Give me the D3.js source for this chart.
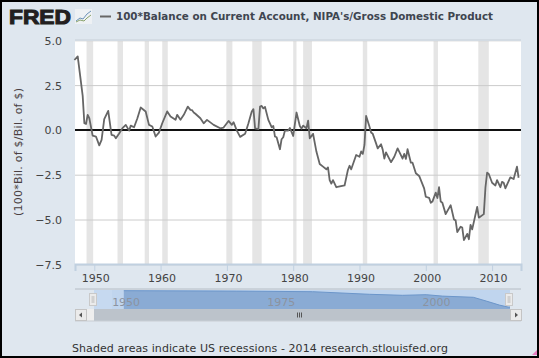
<!DOCTYPE html>
<html>
<head>
<meta charset="utf-8">
<script src="https://cdn.jsdelivr.net/npm/d3@7"></script>
<style>
html, body { margin: 0; padding: 0; background: #dfe7ef; }
svg { display: block; }
text { font-family: "DejaVu Sans", sans-serif; }
</style>
</head>
<body>
<script>
//Series: decimal year and percent of GDP
var years = [1947,1947.5,1948.25,1948.5,1948.75,1949,1949.25,1949.75,1950.25,1950.75,1951.1,1951.5,1952.1,1952.6,1953,1953.25,1953.75,1954.25,1954.75,1955.25,1955.5,1956,1956.5,1957,1957.75,1958.25,1958.75,1959.25,1959.75,1960.25,1961,1961.5,1962.25,1962.5,1963,1963.5,1964.1,
  1964.5,1964.75,1965,1965.25,1966,1966.5,1967,1968,1969,1969.5,1970.25,1970.75,1971,1971.5,1972,1972.75,1973.25,1973.75,1974,1974.25,1974.75,1975,1975.25,1975.5,1975.75,1976.25,1976.75,1977,1977.25,1977.5,1978,1978.25,1978.5,1978.75,1979.25,1979.5,1980,1980.5,1981,1981.25,1981.5,1982,1982.25,1982.5,1983,1983.5,1984,
  1984.5,1985,1985.25,1985.5,1985.75,1986,1986.5,1987.75,1988.25,1988.5,1988.75,1989.5,1990,1990.25,1990.5,1990.75,1991,1991.5,1991.75,1992,1992.5,1992.75,1993.25,1993.5,1993.75,1994,1994.75,1995.25,1995.75,1996.5,1996.75,1997,1997.25,1997.75,1998,1998.5,1999,
  1999.75,2000,2000.5,2000.75,2001,2001.5,2001.75,2002,2002.25,2002.5,2003,2003.75,2004.25,2004.5,2004.75,2005.25,2005.5,2005.75,2006.25,2006.5,2006.75,2007,2007.75,2008,2008.75,2009,2009.25,2009.5,2010,2010.5,2010.75,2011.25,2011.5,2011.75,2012,2012.75,2013.25,2013.75,2014];
var balance = [3.9,4.1,1.9,0.37,0.33,0.84,0.65,-0.32,-0.37,-0.86,-0.56,0.6,1.06,-0.28,-0.32,-0.47,-0.2,0.1,0.28,-0.04,0.24,0.15,0.65,1.25,1.03,0.28,0.19,-0.37,-0.15,0.37,1.03,0.75,0.56,0.84,0.56,0.84,1.3,
  1.12,1.1,0.97,0.9,0.65,0.37,0.56,0.28,0.09,0.13,0.5,0.28,0.43,-0.04,-0.39,-0.22,0.37,1.03,1.16,0.09,0.04,1.3,1.34,1.2,1.28,0.56,0.15,0.22,-0.37,-0.41,-1.08,-0.52,-0.41,-0.04,-0.04,0.11,-0.34,0.97,0.22,0.07,0.24,0.09,0.52,-0.47,-0.22,-1.21,-1.9,
  -2.05,-2.2,-2.09,-2.8,-3,-2.8,-3.2,-3.1,-2.24,-2,-2.2,-1.4,-1.5,-1.2,-1.34,-0.84,0.78,0.19,-0.15,-0.22,-0.75,-1.03,-0.8,-1.1,-1.6,-1.25,-1.8,-1.5,-1.03,-1.6,-1.34,-1.62,-1.08,-1.83,-1.83,-2.42,-2.57,
  -3.26,-3.73,-3.79,-4.07,-4,-3.5,-3.8,-3.2,-4,-4.07,-4.7,-4.2,-5,-5.05,-5.7,-5.4,-5.45,-6.15,-5.8,-6.1,-5.3,-5.55,-4.3,-4.9,-4.7,-3.2,-2.39,-2.46,-2.95,-3.1,-2.8,-3.2,-2.9,-2.95,-3.26,-2.65,-2.74,-2.05,-2.67];

//NBER recessions
var recStart = [1948.83,1953.5,1957.6,1960.25,1969.92,1973.83,1980,1981.5,1990.5,2001.17,2007.92];
var recEnd = [1949.83,1954.33,1958.25,1961.08,1970.83,1975.25,1980.5,1982.83,1991.17,2001.83,2009.5];

var yTicks = [5,2.5,0,-2.5,-5,-7.5];
var xTicks = [1950,1960,1970,1980,1990,2000,2010];

//Navigator outline, level in percent of the navigator height
var navYears = [1951.8,1970,1982.2,1991.4,1996.7,2000.5,2003.1,2008.1,2010.2,2012.3,2013.7,2014];
var navLevel = [94,92,89,76,71,74,67,61,42,22,12,12];
var navTicks = [1950,1975,2000];

var titleText = "100*Balance on Current Account, NIPA's/Gross Domestic Product";
var yLabel = "(100*Bil. of $/Bil. of $)";
var footer = "Shaded areas indicate US recessions - 2014 research.stlouisfed.org";

var w = 539, h = 358;
var margin = {top: 40, right: 18, bottom: 94, left: 75};

var xScale = d3.scaleLinear().domain([1947.09, 2014.36]).range([margin.left, w - margin.right]);
var yScale = d3.scaleLinear().domain([-7.5, 5]).range([h - margin.bottom + 0.3, margin.top + 0.3]);
var navX = d3.scaleLinear().domain([1947, 2014]).range([94, 510]);
var navY = d3.scaleLinear().domain([0, 100]).range([309.5, 289.5]);

var svg = d3.select("body").append("svg").attr("width", w).attr("height", h);

svg.append("rect").attr("width", w).attr("height", h).attr("fill", "#dfe7ef");

//Logo and legend
svg.append("text").attr("x", 9).attr("y", 24)
  .attr("textLength", 62).attr("lengthAdjust", "spacingAndGlyphs")
  .style("font-family", "'Liberation Sans', sans-serif").style("font-weight", "bold").style("font-size", "21px")
  .attr("fill", "#231f20").attr("stroke", "#231f20").attr("stroke-width", 1.1)
  .text("FRED");
svg.append("rect").attr("x", 75).attr("y", 9).attr("width", 17).attr("height", 15).attr("fill", "#eef1f4");
svg.append("path").attr("d", "M76 21L80 18L83 19L87 14L91 11").attr("fill", "none").attr("stroke", "#6d93b8");
svg.append("path").attr("d", "M76 22L80 20L84 21L87 18L91 15").attr("fill", "none").attr("stroke", "#8aa36b");
svg.append("line").attr("x1", 100).attr("x2", 111).attr("y1", 16.5).attr("y2", 16.5).attr("stroke", "#666").attr("stroke-width", 2);
svg.append("text").attr("x", 116).attr("y", 20)
  .attr("textLength", 377).attr("lengthAdjust", "spacingAndGlyphs")
  .style("font-weight", "bold").style("font-size", "11px").attr("fill", "#3e4550")
  .text(titleText);

//Plot area
svg.append("rect")
  .attr("x", margin.left).attr("y", margin.top)
  .attr("width", w - margin.left - margin.right).attr("height", h - margin.top - margin.bottom)
  .attr("fill", "#fff");

svg.selectAll("rect.recession")
  .data(recStart)
  .enter()
  .append("rect")
  .attr("class", "recession")
  .attr("x", function (d) { return xScale(d); })
  .attr("y", margin.top)
  .attr("width", function (d, i) { return xScale(recEnd[i]) - xScale(d); })
  .attr("height", h - margin.top - margin.bottom)
  .attr("fill", "#e5e5e5");

//Y axis with the gridlines as long ticks
var yAxis = d3.axisLeft(yScale)
  .tickValues(yTicks)
  .tickSize(-(w - margin.left - margin.right))
  .tickPadding(13)
  .tickFormat(d3.format(".1f"));

var yG = svg.append("g").attr("transform", "translate(" + margin.left + ",0)").call(yAxis);
yG.select(".domain").remove();
yG.selectAll("line").attr("stroke", "#ccc");
yG.selectAll("text").attr("fill", "#444").style("font-size", "11px").attr("dy", "0.36em");
svg.append("line").attr("x1", margin.left).attr("x2", w - margin.right)
  .attr("y1", margin.top).attr("y2", margin.top).attr("stroke", "#d3dbe3").attr("stroke-width", 2);

svg.append("text")
  .attr("transform", "translate(22,152) rotate(-90)")
  .attr("text-anchor", "middle")
  .attr("textLength", 128)
  .style("font-size", "11px").attr("fill", "#4a3f42")
  .text(yLabel);

//X axis
var xAxis = d3.axisBottom(xScale)
  .tickValues(xTicks)
  .tickSize(7)
  .tickPadding(3)
  .tickFormat(d3.format("d"));

var xG = svg.append("g").attr("transform", "translate(0," + (h - margin.bottom) + ")").call(xAxis);
xG.select(".domain").attr("stroke", "#c0d0e0").attr("stroke-width", 2);
xG.selectAll("line").attr("stroke", "#c0d0e0");
xG.selectAll("text").attr("fill", "#444").style("font-size", "11px").attr("dx", "1");

//Zero line
svg.append("line").attr("x1", margin.left).attr("x2", w - margin.right)
  .attr("y1", yScale(0)).attr("y2", yScale(0)).attr("stroke", "#111").attr("stroke-width", 2);

//Data line
var line = d3.line()
  .x(function (d, i) { return xScale(d); })
  .y(function (d, i) { return yScale(balance[i]); });

svg.append("path").attr("d", line(years))
  .attr("fill", "none").attr("stroke", "#666").attr("stroke-width", 1.8).attr("stroke-linejoin", "round");

//Navigator
svg.append("rect").attr("x", 94).attr("y", 290).attr("width", 416).attr("height", 19).attr("fill", "#c0d5ee");
svg.append("rect").attr("x", 94).attr("y", 290).attr("width", 18).attr("height", 19).attr("fill", "#c6d9f0");

var area = d3.area()
  .x(function (d) { return navX(d); })
  .y0(309)
  .y1(function (d, i) { return navY(navLevel[i]); });
svg.append("path").attr("d", area(navYears)).attr("fill", "#8aabd4");
var navLine = d3.line()
  .x(function (d) { return navX(d); })
  .y(function (d, i) { return navY(navLevel[i]); });
svg.append("path").attr("d", navLine(navYears)).attr("fill", "none").attr("stroke", "#6c96ca");

svg.selectAll("text.navtick")
  .data(navTicks)
  .enter()
  .append("text")
  .attr("class", "navtick")
  .attr("x", function (d) { return navX(d) + 13.5; })
  .attr("y", 306)
  .attr("text-anchor", "middle")
  .style("font-size", "11px")
  .attr("fill", "#8c93a0")
  .text(function (d) { return d; });

svg.append("line").attr("x1", 75).attr("x2", 521).attr("y1", 289).attr("y2", 289).attr("stroke", "#b5bcc4");

//Scrollbar
svg.append("rect").attr("x", 87).attr("y", 309).attr("width", 7).attr("height", 12).attr("fill", "#eeeeee");
svg.append("rect").attr("x", 94).attr("y", 309).attr("width", 416).attr("height", 12).attr("fill", "#bcc3cb");
svg.append("line").attr("x1", 75).attr("x2", 521).attr("y1", 321).attr("y2", 321).attr("stroke", "#c9ced4");

[75.5, 510.5].forEach(function (x, i) {
  svg.append("rect").attr("x", x).attr("y", 309.5).attr("width", 11).attr("height", 11)
    .attr("fill", "#ebebeb").attr("stroke", "#c4c4c4");
  var cx = x + 5.5;
  var dir = i == 0 ? -1 : 1;
  svg.append("path").attr("d", "M" + (cx + dir * 2) + " 315L" + (cx - dir) + " 312.5V317.5Z").attr("fill", "#555");
});

[301, 303, 305].forEach(function (x) {
  svg.append("line").attr("x1", x - 3.5).attr("x2", x - 3.5).attr("y1", 312.5).attr("y2", 317.5).attr("stroke", "#555");
});

[93, 509].forEach(function (x) {
  svg.append("rect").attr("x", x - 3.5).attr("y", 293.5).attr("width", 7).attr("height", 12)
    .attr("fill", "#ebebeb").attr("stroke", "#c9c9c9");
  svg.append("rect").attr("x", x - 1.5).attr("y", 296).attr("width", 3).attr("height", 7)
    .attr("fill", "#d0d0d0");
});

//Footer
svg.append("text").attr("x", 72).attr("y", 352)
  .attr("textLength", 376)
  .style("font-size", "11px").attr("fill", "#333")
  .text(footer);

//Frame
svg.append("path").attr("d", "M532 355L537 355L537 350Z").attr("fill", "#e87cc0");
svg.append("rect").attr("x", 1).attr("y", 1).attr("width", w - 2).attr("height", h - 2)
  .attr("fill", "none").attr("stroke", "#000").attr("stroke-width", 2);
</script>
</body>
</html>
